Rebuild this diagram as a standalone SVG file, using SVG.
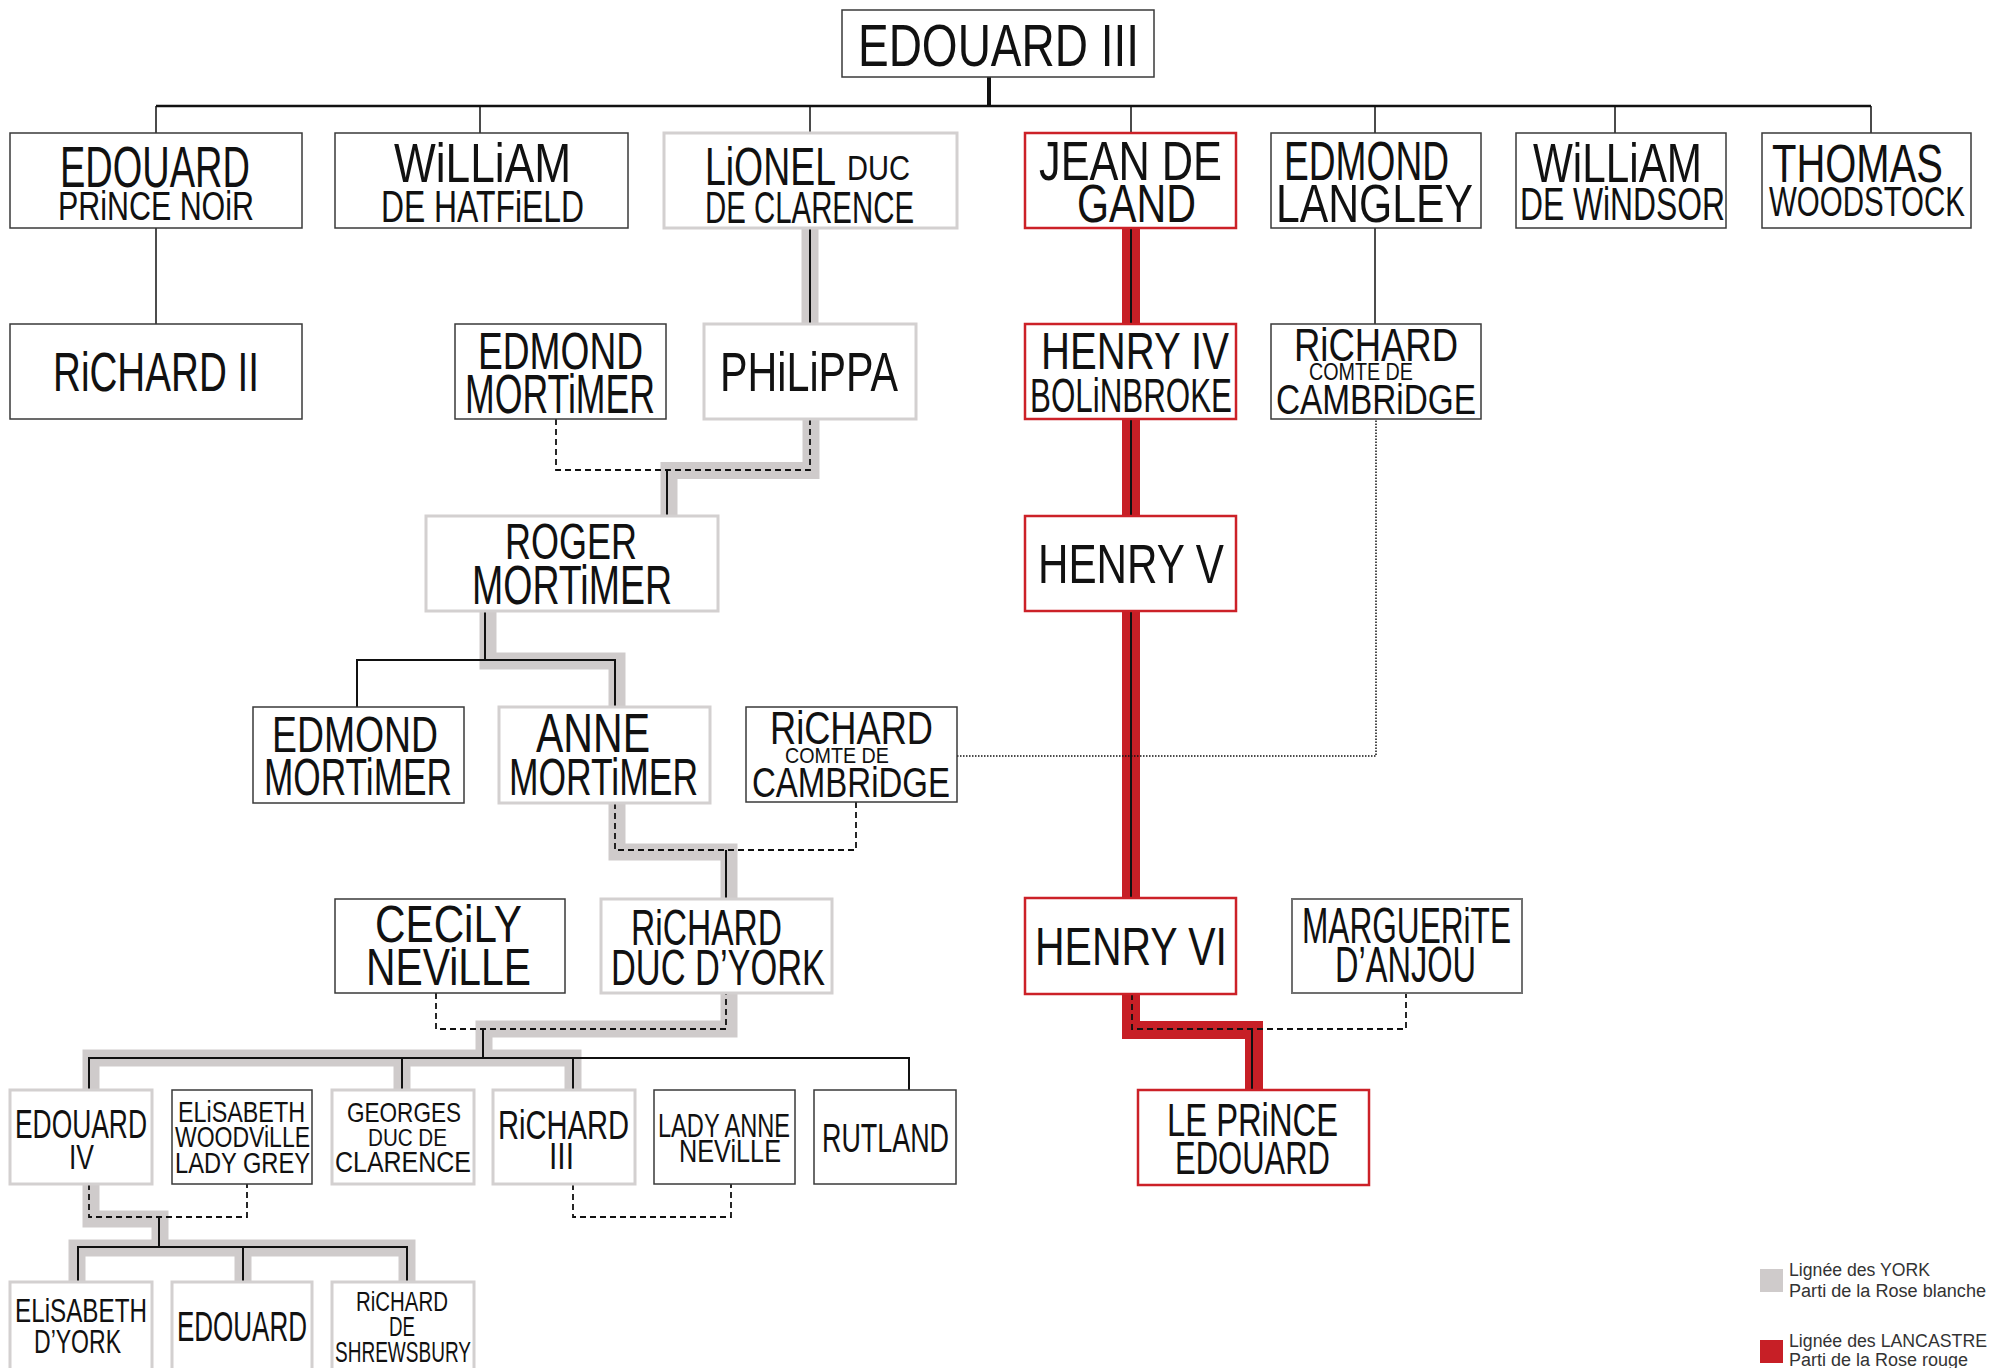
<svg xmlns="http://www.w3.org/2000/svg" width="1991" height="1368" viewBox="0 0 1991 1368">
<style>
.b{fill:#fff;stroke:#3a3a3a;stroke-width:1.5}
.g{fill:#fff;stroke:#d3d0d0;stroke-width:3}
.r{fill:#fff;stroke:#cc2128;stroke-width:2.5}
.m{fill:#fff;stroke:#707070;stroke-width:2}
text{font-family:"Liberation Sans",Arial,sans-serif;fill:#111}
.lg{fill:#333}
.gb{fill:none;stroke:#cfcbcb;stroke-width:17;stroke-linejoin:miter}
.rb{fill:none;stroke:#c71f26;stroke-width:18;stroke-linejoin:miter}
.ln{fill:none;stroke:#111;stroke-width:2}
.th{fill:none;stroke:#111;stroke-width:1.5}
.ds{fill:none;stroke:#111;stroke-width:1.8;stroke-dasharray:6 4}
.dt{fill:none;stroke:#111;stroke-width:1.5;stroke-dasharray:1.5 1.5}
</style>
<rect width="1991" height="1368" fill="#fff"/>
<g id="connectors">
  <path class="gb" d="M810,228 V324"/>
  <path class="gb" d="M811,419 V470.5 H669 V516"/>
  <path class="gb" d="M488,611 V661 H617 V707"/>
  <path class="gb" d="M617,803 V852 H729 V899"/>
  <path class="gb" d="M729,993 V1029 H484 V1058"/>
  <path class="gb" d="M91,1090 V1058 H573 V1090"/>
  <path class="gb" d="M402,1058 V1090"/>
  <path class="gb" d="M91,1184 V1219 H160 V1248"/>
  <path class="gb" d="M77,1282 V1248 H407 V1282"/>
  <path class="gb" d="M243,1248 V1282"/>
  <path class="rb" d="M1131,228 V324"/>
  <path class="rb" d="M1131,419 V516"/>
  <path class="rb" d="M1131,611 V898"/>
  <path class="rb" d="M1131,994 V1030 H1254 V1090"/>
  <path d="M989,77 V106" fill="none" stroke="#111" stroke-width="4"/>
  <path d="M156,106 H1871" fill="none" stroke="#111" stroke-width="2.5"/>
  <path class="th" d="M156,106 V133 M480,106 V133 M810,106 V133 M1131,106 V133 M1375,106 V133 M1615,106 V133 M1871,106 V133"/>
  <path class="th" d="M156,228 V324"/>
  <path class="th" d="M1375,228 V324"/>
  <path class="ln" d="M810,228 V324"/>
  <path class="ln" d="M1131,228 V324 M1131,419 V516 M1131,611 V898"/>
  <path class="ds" d="M556,419 V470 H810 V419"/>
  <path class="ln" d="M667,470 V516"/>
  <path class="ln" d="M485,611 V660 M357,707 V660 H615 V707"/>
  <path class="ds" d="M615,803 V850 H856 V802"/>
  <path class="ln" d="M726,850 V899"/>
  <path class="dt" d="M957,756 H1376 V419"/>
  <path class="ds" d="M436,993 V1029 H726 V993"/>
  <path class="ln" d="M483,1029 V1058 M89,1090 V1058 H909 V1090 M402,1058 V1090 M573,1058 V1090"/>
  <path class="ds" d="M89,1184 V1217 H247 V1184"/>
  <path class="ln" d="M159,1217 V1247 M78,1282 V1247 H407 V1282 M243,1247 V1282"/>
  <path class="ds" d="M573,1184 V1217 H731 V1184"/>
  <path class="ds" d="M1132,994 V1029 H1406 V993"/>
  <path class="ln" d="M1252,1029 V1090"/>
</g>

<g id="n-edouard3"><rect class="b" x="842" y="10" width="312" height="67"/><text transform="translate(858,66) scale(1,1.304)" font-size="46" textLength="281" lengthAdjust="spacingAndGlyphs">EDOUARD III</text></g>

<g id="n-edouard-pn"><rect class="b" x="10" y="133" width="292" height="95"/><text transform="translate(60,187) scale(1,1.5)" font-size="38" textLength="190" lengthAdjust="spacingAndGlyphs">EDOUARD</text><text transform="translate(58,220) scale(1,1.333)" font-size="30" textLength="196" lengthAdjust="spacingAndGlyphs">PRiNCE NOiR</text></g>
<g id="n-william-h"><rect class="b" x="335" y="133" width="293" height="95"/><text transform="translate(394,182) scale(1,1.273)" font-size="44" textLength="177" lengthAdjust="spacingAndGlyphs">WiLLiAM</text><text transform="translate(381,222) scale(1,1.419)" font-size="31" textLength="203" lengthAdjust="spacingAndGlyphs">DE HATFiELD</text></g>
<g id="n-lionel"><rect class="g" x="664" y="133" width="293" height="95"/><text transform="translate(705,185) scale(1,1.459)" font-size="37" textLength="131" lengthAdjust="spacingAndGlyphs">LiONEL</text><text transform="translate(847,180) scale(1,1.241)" font-size="29" textLength="63" lengthAdjust="spacingAndGlyphs">DUC</text><text transform="translate(705,223) scale(1,1.517)" font-size="29" textLength="209" lengthAdjust="spacingAndGlyphs">DE CLARENCE</text></g>
<g id="n-jean"><rect class="r" x="1025" y="133" width="211" height="95"/><text transform="translate(1039,180) scale(1,1.302)" font-size="43" textLength="183" lengthAdjust="spacingAndGlyphs">JEAN DE</text><text transform="translate(1077,222) scale(1,1.317)" font-size="41" textLength="119" lengthAdjust="spacingAndGlyphs">GAND</text></g>
<g id="n-edmond-l"><rect class="b" x="1271" y="133" width="210" height="95"/><text transform="translate(1284,180) scale(1,1.514)" font-size="37" textLength="165" lengthAdjust="spacingAndGlyphs">EDMOND</text><text transform="translate(1276,222) scale(1,1.286)" font-size="42" textLength="197" lengthAdjust="spacingAndGlyphs">LANGLEY</text></g>
<g id="n-william-w"><rect class="b" x="1516" y="133" width="210" height="95"/><text transform="translate(1533,182) scale(1,1.333)" font-size="42" textLength="169" lengthAdjust="spacingAndGlyphs">WiLLiAM</text><text transform="translate(1520,220) scale(1,1.484)" font-size="31" textLength="205" lengthAdjust="spacingAndGlyphs">DE WiNDSOR</text></g>
<g id="n-thomas"><rect class="b" x="1762" y="133" width="209" height="95"/><text transform="translate(1772,182) scale(1,1.385)" font-size="39" textLength="171" lengthAdjust="spacingAndGlyphs">THOMAS</text><text transform="translate(1769,216) scale(1,1.448)" font-size="29" textLength="196" lengthAdjust="spacingAndGlyphs">WOODSTOCK</text></g>

<g id="n-richard2"><rect class="b" x="10" y="324" width="292" height="95"/><text transform="translate(53,391) scale(1,1.474)" font-size="38" textLength="206" lengthAdjust="spacingAndGlyphs">RiCHARD II</text></g>
<g id="n-edmond-m1"><rect class="b" x="455" y="324" width="211" height="95"/><text transform="translate(478,369) scale(1,1.405)" font-size="37" textLength="165" lengthAdjust="spacingAndGlyphs">EDMOND</text><text transform="translate(465,413) scale(1,1.6)" font-size="35" textLength="190" lengthAdjust="spacingAndGlyphs">MORTiMER</text></g>
<g id="n-philippa"><rect class="g" x="704" y="324" width="212" height="95"/><text transform="translate(720,391) scale(1,1.4)" font-size="40" textLength="178" lengthAdjust="spacingAndGlyphs">PHiLiPPA</text></g>
<g id="n-henry4"><rect class="r" x="1025" y="324" width="211" height="95"/><text transform="translate(1041,369) scale(1,1.333)" font-size="39" textLength="188" lengthAdjust="spacingAndGlyphs">HENRY IV</text><text transform="translate(1030,412) scale(1,1.548)" font-size="31" textLength="202" lengthAdjust="spacingAndGlyphs">BOLiNBROKE</text></g>
<g id="n-richard-c1"><rect class="b" x="1271" y="324" width="210" height="95"/><text transform="translate(1294,361) scale(1,1.278)" font-size="36" textLength="164" lengthAdjust="spacingAndGlyphs">RiCHARD</text><text transform="translate(1309,380) scale(1,1.263)" font-size="19" textLength="104" lengthAdjust="spacingAndGlyphs">COMTE DE</text><text transform="translate(1276,414) scale(1,1.273)" font-size="33" textLength="200" lengthAdjust="spacingAndGlyphs">CAMBRiDGE</text></g>

<g id="n-roger"><rect class="g" x="426" y="516" width="292" height="95"/><text transform="translate(505,559) scale(1,1.389)" font-size="36" textLength="132" lengthAdjust="spacingAndGlyphs">ROGER</text><text transform="translate(472,604) scale(1,1.514)" font-size="37" textLength="200" lengthAdjust="spacingAndGlyphs">MORTiMER</text></g>
<g id="n-henry5"><rect class="r" x="1025" y="516" width="211" height="95"/><text transform="translate(1038,583) scale(1,1.366)" font-size="41" textLength="186" lengthAdjust="spacingAndGlyphs">HENRY V</text></g>

<g id="n-edmond-m2"><rect class="b" x="253" y="707" width="211" height="96"/><text transform="translate(272,752) scale(1,1.351)" font-size="37" textLength="166" lengthAdjust="spacingAndGlyphs">EDMOND</text><text transform="translate(264,795) scale(1,1.529)" font-size="34" textLength="188" lengthAdjust="spacingAndGlyphs">MORTiMER</text></g>
<g id="n-anne"><rect class="g" x="499" y="707" width="211" height="96"/><text transform="translate(536,752) scale(1,1.366)" font-size="41" textLength="114" lengthAdjust="spacingAndGlyphs">ANNE</text><text transform="translate(509,795) scale(1,1.486)" font-size="35" textLength="189" lengthAdjust="spacingAndGlyphs">MORTiMER</text></g>
<g id="n-richard-c2"><rect class="b" x="746" y="707" width="211" height="95"/><text transform="translate(770,744) scale(1,1.278)" font-size="36" textLength="163" lengthAdjust="spacingAndGlyphs">RiCHARD</text><text transform="translate(785,763) scale(1,1.158)" font-size="19" textLength="104" lengthAdjust="spacingAndGlyphs">COMTE DE</text><text transform="translate(752,797) scale(1,1.273)" font-size="33" textLength="198" lengthAdjust="spacingAndGlyphs">CAMBRiDGE</text></g>

<g id="n-cecily"><rect class="b" x="335" y="899" width="230" height="94"/><text transform="translate(375,942) scale(1,1.268)" font-size="41" textLength="147" lengthAdjust="spacingAndGlyphs">CECiLY</text><text transform="translate(366,985) scale(1,1.3)" font-size="40" textLength="165" lengthAdjust="spacingAndGlyphs">NEViLLE</text></g>
<g id="n-richard-york"><rect class="g" x="601" y="899" width="231" height="94"/><text transform="translate(631,945) scale(1,1.515)" font-size="33" textLength="151" lengthAdjust="spacingAndGlyphs">RiCHARD</text><text transform="translate(611,985) scale(1,1.471)" font-size="34" textLength="214" lengthAdjust="spacingAndGlyphs">DUC D’YORK</text></g>
<g id="n-henry6"><rect class="r" x="1025" y="898" width="211" height="96"/><text transform="translate(1035,965) scale(1,1.35)" font-size="40" textLength="192" lengthAdjust="spacingAndGlyphs">HENRY VI</text></g>
<g id="n-marguerite"><rect class="m" x="1292" y="899" width="230" height="94"/><text transform="translate(1302,943) scale(1,1.613)" font-size="31" textLength="209" lengthAdjust="spacingAndGlyphs">MARGUERiTE</text><text transform="translate(1335,982) scale(1,1.5625)" font-size="32" textLength="141" lengthAdjust="spacingAndGlyphs">D’ANJOU</text></g>
<g id="n-prince-edouard"><rect class="r" x="1138" y="1090" width="231" height="95"/><text transform="translate(1167,1136) scale(1,1.4375)" font-size="32" textLength="171" lengthAdjust="spacingAndGlyphs">LE PRiNCE</text><text transform="translate(1175,1174) scale(1,1.484)" font-size="31" textLength="155" lengthAdjust="spacingAndGlyphs">EDOUARD</text></g>

<g id="n-edouard4"><rect class="g" x="10" y="1090" width="142" height="94"/><text transform="translate(15,1138) scale(1,1.538)" font-size="26" textLength="132" lengthAdjust="spacingAndGlyphs">EDOUARD</text><text transform="translate(69,1169) scale(1,1.385)" font-size="26" textLength="25" lengthAdjust="spacingAndGlyphs">IV</text></g>
<g id="n-elisabeth-w"><rect class="b" x="172" y="1090" width="140" height="94"/><text transform="translate(178,1122) scale(1,1.304)" font-size="23" textLength="127" lengthAdjust="spacingAndGlyphs">ELiSABETH</text><text transform="translate(175,1147) scale(1,1.364)" font-size="22" textLength="135" lengthAdjust="spacingAndGlyphs">WOODViLLE</text><text transform="translate(175,1173) scale(1,1.304)" font-size="23" textLength="135" lengthAdjust="spacingAndGlyphs">LADY GREY</text></g>
<g id="n-georges"><rect class="g" x="332" y="1090" width="142" height="94"/><text transform="translate(347,1122) scale(1,1.273)" font-size="22" textLength="114" lengthAdjust="spacingAndGlyphs">GEORGES</text><text transform="translate(368,1146) scale(1,1.2)" font-size="20" textLength="79" lengthAdjust="spacingAndGlyphs">DUC DE</text><text transform="translate(335,1172) scale(1,1.25)" font-size="24" textLength="136" lengthAdjust="spacingAndGlyphs">CLARENCE</text></g>
<g id="n-richard3"><rect class="g" x="493" y="1090" width="142" height="94"/><text transform="translate(498,1139) scale(1,1.379)" font-size="29" textLength="131" lengthAdjust="spacingAndGlyphs">RiCHARD</text><text transform="translate(549,1169) scale(1,1.2)" font-size="30" textLength="25" lengthAdjust="spacingAndGlyphs">III</text></g>
<g id="n-lady-anne"><rect class="b" x="654" y="1090" width="141" height="94"/><text transform="translate(658,1137) scale(1,1.478)" font-size="23" textLength="132" lengthAdjust="spacingAndGlyphs">LADY ANNE</text><text transform="translate(679,1162) scale(1,1.28)" font-size="25" textLength="102" lengthAdjust="spacingAndGlyphs">NEViLLE</text></g>
<g id="n-rutland"><rect class="b" x="814" y="1090" width="142" height="94"/><text transform="translate(822,1152) scale(1,1.538)" font-size="26" textLength="127" lengthAdjust="spacingAndGlyphs">RUTLAND</text></g>

<g id="n-elisabeth-y"><rect class="g" x="10" y="1282" width="142" height="95"/><text transform="translate(15,1322) scale(1,1.417)" font-size="24" textLength="132" lengthAdjust="spacingAndGlyphs">ELiSABETH</text><text transform="translate(34,1353) scale(1,1.478)" font-size="23" textLength="87" lengthAdjust="spacingAndGlyphs">D’YORK</text></g>
<g id="n-edouard5"><rect class="g" x="172" y="1282" width="140" height="95"/><text transform="translate(177,1341) scale(1,1.615)" font-size="26" textLength="130" lengthAdjust="spacingAndGlyphs">EDOUARD</text></g>
<g id="n-richard-s"><rect class="g" x="332" y="1282" width="142" height="95"/><text transform="translate(356,1311) scale(1,1.4)" font-size="20" textLength="92" lengthAdjust="spacingAndGlyphs">RiCHARD</text><text transform="translate(389,1336) scale(1,1.556)" font-size="18" textLength="26" lengthAdjust="spacingAndGlyphs">DE</text><text transform="translate(335,1362) scale(1,1.667)" font-size="18" textLength="136" lengthAdjust="spacingAndGlyphs">SHREWSBURY</text></g>

<g id="legend">
  <rect x="1760" y="1269" width="23" height="23" fill="#cfcbcb"/>
  <text class="lg" transform="translate(1789,1276) scale(1,1.118)" font-size="17" textLength="141" lengthAdjust="spacingAndGlyphs">Lignée des YORK</text>
  <text class="lg" transform="translate(1789,1297) scale(1,1.056)" font-size="18" textLength="197" lengthAdjust="spacingAndGlyphs">Parti de la Rose blanche</text>
  <rect x="1760" y="1340" width="23" height="23" fill="#c71f26"/>
  <text class="lg" transform="translate(1789,1347) scale(1,1.118)" font-size="17" textLength="198" lengthAdjust="spacingAndGlyphs">Lignée des LANCASTRE</text>
  <text class="lg" transform="translate(1789,1366) scale(1,1.118)" font-size="17" textLength="179" lengthAdjust="spacingAndGlyphs">Parti de la Rose rouge</text>
</g>
</svg>
